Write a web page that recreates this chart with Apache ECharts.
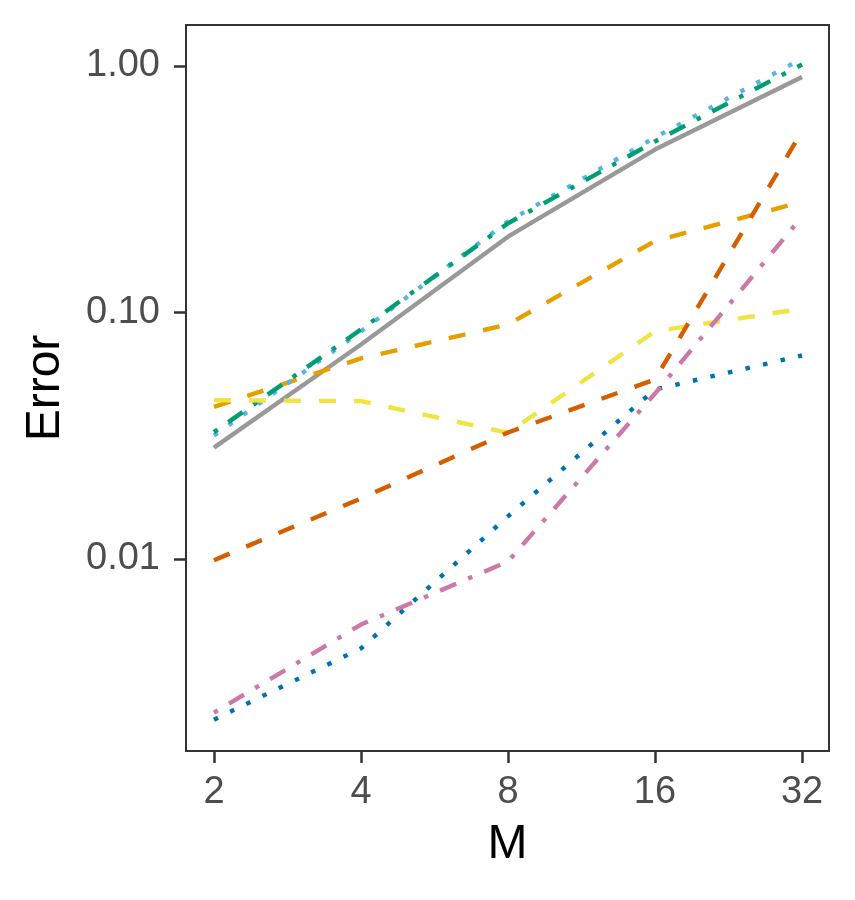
<!DOCTYPE html>
<html>
<head>
<meta charset="utf-8">
<title>Error vs M</title>
<script src="https://cdn.jsdelivr.net/npm/echarts@6/dist/echarts.min.js"></script>
<style>
  html, body { margin: 0; padding: 0; background: #fff; }
  #chart { width: 855px; height: 900px; }
</style>
</head>
<body>
<div id="chart"></div>
<script>
// x values (M) and y tick values
var mValues = [2, 4, 8, 16, 32];
var yTicks = [0.01, 0.1, 1];

// error per series
var errGrey   = [0.0283, 0.0741, 0.203, 0.458, 0.902];
var errOrange = [0.0414, 0.0651, 0.0894, 0.195, 0.281];
var errSky    = [0.0317, 0.0837, 0.234, 0.513, 1.07];
var errGreen  = [0.0327, 0.0853, 0.230, 0.494, 1.014];
var errYellow = [0.0441, 0.0437, 0.0325, 0.0839, 0.1035];
var errBlue   = [0.00223, 0.00434, 0.0149, 0.0487, 0.0669];
var errVerm   = [0.00989, 0.0176, 0.0326, 0.0535, 0.544];
var errPink   = [0.00238, 0.00542, 0.00977, 0.0469, 0.2445];

// line looks
var dashed  = [17, 18];
var dotted  = [4.5, 13.5];
var dotdash = [4.5, 13, 17.5, 13];

var lines = [
    {name: 'grey',   values: errGrey,   color: '#999999', type: 'solid'},
    {name: 'orange', values: errOrange, color: '#E69F00', type: dashed},
    {name: 'sky',    values: errSky,    color: '#56B4E9', type: dotted},
    {name: 'green',  values: errGreen,  color: '#009E73', type: dotdash},
    {name: 'yellow', values: errYellow, color: '#F0E442', type: dashed},
    {name: 'blue',   values: errBlue,   color: '#0072B2', type: dotted},
    {name: 'verm',   values: errVerm,   color: '#D55E00', type: dashed},
    {name: 'pink',   values: errPink,   color: '#CC79A7', type: dotdash}
];

var series = [];
lines.forEach(function (ln) {
    series.push({
        name: ln.name,
        type: 'line',
        symbol: 'none',
        silent: true,
        animation: false,
        lineStyle: {color: ln.color, width: 4.4, type: ln.type, cap: 'butt'},
        data: mValues.map(function (m, i) { return [m, ln.values[i]]; })
    });
});

var font = '"Liberation Sans", Arial, Helvetica, sans-serif';
var myChart = echarts.init(document.getElementById('chart'));
myChart.setOption({
    animation: false,
    grid: {
        left: 186, right: 26, top: 25, bottom: 149,
        show: true, borderColor: '#333333', borderWidth: 2, backgroundColor: '#ffffff'
    },
    xAxis: {
        type: 'log',
        logBase: 2,
        min: 1.753,
        max: 36.34,
        name: 'M',
        nameLocation: 'middle',
        nameGap: 70,
        nameTextStyle: {color: '#000', fontSize: 48, fontFamily: font},
        axisLine: {show: false},
        axisTick: {show: true, length: 12, customValues: mValues,
            lineStyle: {color: '#333333', width: 2.5}},
        axisLabel: {customValues: mValues, margin: 23, color: '#4D4D4D',
            fontSize: 38, fontFamily: font},
        splitLine: {show: false},
        minorTick: {show: false}
    },
    yAxis: {
        type: 'log',
        logBase: 10,
        min: 0.001664,
        max: 1.466,
        name: 'Error',
        nameLocation: 'middle',
        nameGap: 116,
        nameTextStyle: {color: '#000', fontSize: 48, fontFamily: font},
        axisLine: {show: false},
        axisTick: {show: true, length: 12, customValues: yTicks,
            lineStyle: {color: '#333333', width: 2.5}},
        axisLabel: {customValues: yTicks, margin: 26, color: '#4D4D4D',
            fontSize: 38, fontFamily: font,
            formatter: function (v) { return Number(v).toFixed(2); }},
        splitLine: {show: false},
        minorTick: {show: false}
    },
    series: series
});
</script>
</body>
</html>
